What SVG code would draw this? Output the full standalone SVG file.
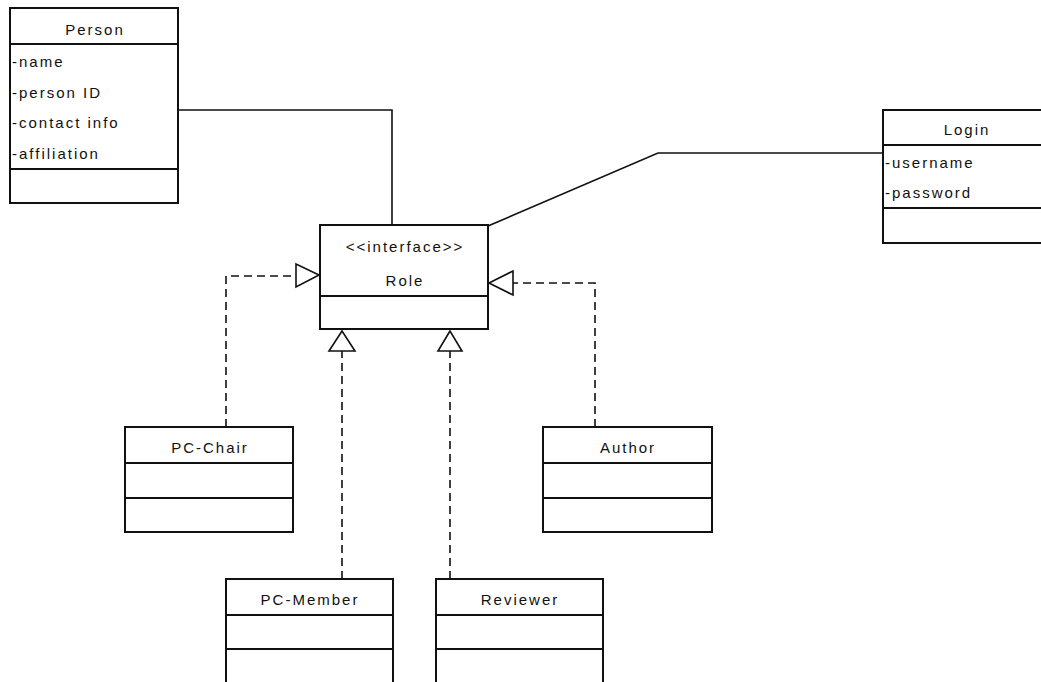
<svg xmlns="http://www.w3.org/2000/svg" width="1041" height="682" viewBox="0 0 1041 682">
<style>
.box{fill:#fff;stroke:#111;stroke-width:2}
.div{stroke:#111;stroke-width:2}
.t{font-family:"Liberation Sans",Arial,sans-serif;font-size:15px;letter-spacing:2px;fill:#111}
.c{text-anchor:middle}
.solid{fill:none;stroke:#111;stroke-width:1.6}
.dash{fill:none;stroke:#111;stroke-width:1.6;stroke-dasharray:8,5}
.tri{fill:#fff;stroke:#111;stroke-width:1.6}
</style>
<rect width="1041" height="682" fill="#fff"/>
<g id="connectors">
<polyline class="solid" points="178,110 392,110 392,225"/>
<polyline class="solid" points="883,153 658,153 488,226"/>
<polyline class="dash" points="226,427 226,276 296,276"/>
<polygon class="tri" points="319,275 296,264 296,287"/>
<polyline class="dash" points="595,427 595,283 513,283"/>
<polygon class="tri" points="489,283 513,271 513,295"/>
<line class="dash" x1="342" y1="579" x2="342" y2="351"/>
<polygon class="tri" points="342,331 329,351 355,351"/>
<line class="dash" x1="450" y1="579" x2="450" y2="351"/>
<polygon class="tri" points="450,331 438,351 462,351"/>
</g>
<g id="person">
<rect class="box" x="10" y="8" width="168" height="195"/>
<line class="div" x1="10" y1="44" x2="178" y2="44"/>
<line class="div" x1="10" y1="169" x2="178" y2="169"/>
<text class="t c" x="95" y="35">Person</text>
<text class="t" x="12" y="67">-name</text>
<text class="t" x="12" y="98">-person ID</text>
<text class="t" x="12" y="128">-contact info</text>
<text class="t" x="12" y="159">-affiliation</text>
</g>
<g id="login">
<rect class="box" x="883" y="110" width="166" height="133"/>
<line class="div" x1="883" y1="145" x2="1049" y2="145"/>
<line class="div" x1="883" y1="208" x2="1049" y2="208"/>
<text class="t c" x="967" y="135">Login</text>
<text class="t" x="885" y="168">-username</text>
<text class="t" x="885" y="198">-password</text>
</g>
<g id="role">
<rect class="box" x="320" y="225" width="168" height="104"/>
<line class="div" x1="320" y1="296" x2="488" y2="296"/>
<text class="t c" x="405" y="252">&lt;&lt;interface&gt;&gt;</text>
<text class="t c" x="405" y="286">Role</text>
</g>
<g id="pc-chair">
<rect class="box" x="125" y="427" width="168" height="105"/>
<line class="div" x1="125" y1="463" x2="293" y2="463"/>
<line class="div" x1="125" y1="498" x2="293" y2="498"/>
<text class="t c" x="210" y="453">PC-Chair</text>
</g>
<g id="author">
<rect class="box" x="543" y="427" width="169" height="105"/>
<line class="div" x1="543" y1="463" x2="712" y2="463"/>
<line class="div" x1="543" y1="498" x2="712" y2="498"/>
<text class="t c" x="628" y="453">Author</text>
</g>
<g id="pc-member">
<rect class="box" x="226" y="579" width="167" height="120"/>
<line class="div" x1="226" y1="615" x2="393" y2="615"/>
<line class="div" x1="226" y1="649" x2="393" y2="649"/>
<text class="t c" x="310" y="605">PC-Member</text>
</g>
<g id="reviewer">
<rect class="box" x="436" y="579" width="167" height="120"/>
<line class="div" x1="436" y1="615" x2="603" y2="615"/>
<line class="div" x1="436" y1="649" x2="603" y2="649"/>
<text class="t c" x="520" y="605">Reviewer</text>
</g>
</svg>
